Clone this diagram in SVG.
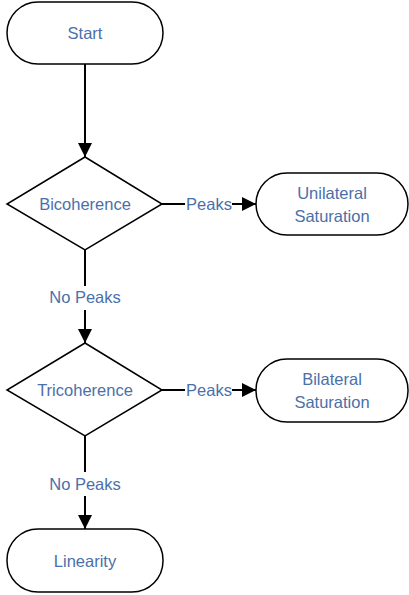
<svg xmlns="http://www.w3.org/2000/svg" width="409" height="595" viewBox="0 0 409 595">
<style>
.shape{fill:#fff;stroke:#000;stroke-width:1.5}
.lbl{font-family:"Liberation Sans",Arial,sans-serif;font-size:16.5px;fill:#4a70aa;text-anchor:middle;dominant-baseline:central}
.conn{stroke:#000;stroke-width:2;fill:none}
</style>
<defs>
<marker id="ah" markerWidth="14" markerHeight="14" viewBox="0 0 14 14" refX="14" refY="7" orient="auto" markerUnits="userSpaceOnUse">
<path d="M0,0 L14,7 L0,14 Z" fill="#000"/>
</marker>
</defs>
<g id="connectors">
<line class="conn" x1="85" y1="64" x2="85" y2="157" marker-end="url(#ah)"/>
<line class="conn" x1="162" y1="204" x2="185" y2="204"/>
<line class="conn" x1="232" y1="204" x2="256" y2="204" marker-end="url(#ah)"/>
<text class="lbl" x="209" y="204">Peaks</text>
<line class="conn" x1="85" y1="250" x2="85" y2="286"/>
<line class="conn" x1="85" y1="310" x2="85" y2="343" marker-end="url(#ah)"/>
<text class="lbl" x="85" y="297">No Peaks</text>
<line class="conn" x1="162" y1="390" x2="185" y2="390"/>
<line class="conn" x1="232" y1="390" x2="256" y2="390" marker-end="url(#ah)"/>
<text class="lbl" x="209" y="390">Peaks</text>
<line class="conn" x1="85" y1="436" x2="85" y2="472"/>
<line class="conn" x1="85" y1="496" x2="85" y2="529" marker-end="url(#ah)"/>
<text class="lbl" x="85" y="484">No Peaks</text>
</g>
<g id="start">
<rect class="shape" x="7" y="2" width="156" height="62" rx="31" ry="31"/>
<text class="lbl" x="85" y="33">Start</text>
</g>
<g id="bicoherence">
<polygon class="shape" points="85,157 162,204 85,250 7,204"/>
<text class="lbl" x="85" y="204">Bicoherence</text>
</g>
<g id="unilateral">
<rect class="shape" x="256" y="173" width="152" height="62" rx="31" ry="31"/>
<text class="lbl" x="332" y="193">Unilateral</text>
<text class="lbl" x="332" y="216">Saturation</text>
</g>
<g id="tricoherence">
<polygon class="shape" points="85,343 162,390 85,436 7,390"/>
<text class="lbl" x="85" y="390">Tricoherence</text>
</g>
<g id="bilateral">
<rect class="shape" x="256" y="359" width="152" height="63" rx="31" ry="31"/>
<text class="lbl" x="332" y="379">Bilateral</text>
<text class="lbl" x="332" y="402">Saturation</text>
</g>
<g id="linearity">
<rect class="shape" x="7" y="529" width="156" height="63" rx="31" ry="31"/>
<text class="lbl" x="85" y="561">Linearity</text>
</g>
</svg>
